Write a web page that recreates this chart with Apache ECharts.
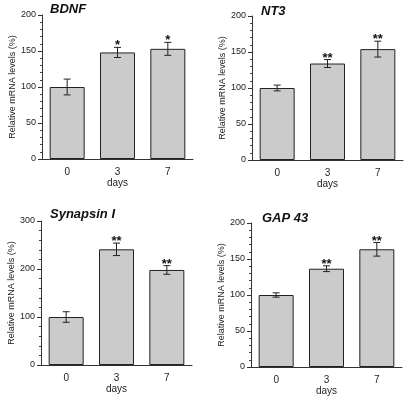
<!DOCTYPE html>
<html>
<head>
<meta charset="utf-8">
<script src="https://cdn.jsdelivr.net/npm/echarts@6/dist/echarts.min.js"></script>
<style>
html,body{margin:0;padding:0;background:#fff;}
#chart{width:405px;height:402px;}
</style>
</head>
<body>
<div id="chart"></div>
<script>
// ---- data ----
const categories = ['0', '3', '7'];
const panelTitles = ['BDNF', 'NT3', 'Synapsin I', 'GAP 43'];

const bdnfValues = [100, 148, 153];
const bdnfErrors = [11, 7, 9];
const bdnfStars = ['', '*', '*'];

const nt3Values = [100, 134, 154];
const nt3Errors = [4, 5.5, 11];
const nt3Stars = ['', '**', '**'];

const synapsinValues = [100, 241, 198];
const synapsinErrors = [11, 13, 9];
const synapsinStars = ['', '**', '**'];

const gap43Values = [100, 136.5, 163.5];
const gap43Errors = [3, 4, 9.5];
const gap43Stars = ['', '**', '**'];

const yMax = [200, 200, 300, 200];
const yInterval = [50, 50, 100, 50];
const yAxisName = 'Relative mRNA levels (%)';
const xAxisName = 'days';

// ---- layout ----
const FONT = '"Liberation Sans", Arial, Helvetica, sans-serif';
const INK = '#222';
const grids = [
  {left: 42, top: 15, width: 151, height: 144},
  {left: 252, top: 16, width: 151, height: 144},
  {left: 41, top: 221, width: 151, height: 144},
  {left: 251, top: 223, width: 151, height: 144}
];
const titlePos = [
  {left: 50, top: 3},
  {left: 261, top: 5},
  {left: 50, top: 208},
  {left: 262, top: 212}
];
const panels = [
  {v: bdnfValues, e: bdnfErrors, s: bdnfStars},
  {v: nt3Values, e: nt3Errors, s: nt3Stars},
  {v: synapsinValues, e: synapsinErrors, s: synapsinStars},
  {v: gap43Values, e: gap43Errors, s: gap43Stars}
];

const xAxes = [], yAxes = [], series = [], titles = [];
panels.forEach((p, i) => {
  titles.push({
    text: panelTitles[i], left: titlePos[i].left, top: titlePos[i].top, padding: 0,
    textStyle: {fontFamily: FONT, fontSize: 13, fontWeight: 'bold', fontStyle: 'italic', color: '#111'}
  });
  xAxes.push({
    type: 'category', gridIndex: i, data: categories, boundaryGap: true,
    name: xAxisName, nameLocation: 'middle', nameGap: 19,
    nameTextStyle: {fontFamily: FONT, fontSize: 10, color: INK},
    axisLine: {lineStyle: {color: '#333', width: 1}},
    axisTick: {alignWithLabel: true, length: 4, lineStyle: {color: '#333'}},
    axisLabel: {fontFamily: FONT, fontSize: 10, color: INK, margin: 8},
    splitLine: {show: false}
  });
  yAxes.push({
    type: 'value', gridIndex: i, min: 0, max: yMax[i], interval: yInterval[i],
    name: yAxisName, nameLocation: 'middle', nameGap: 25, nameRotate: 90,
    nameTextStyle: {fontFamily: FONT, fontSize: 9, color: INK},
    axisLine: {show: true, lineStyle: {color: '#333', width: 1}},
    axisTick: {show: true, length: 4, lineStyle: {color: '#333'}},
    minorTick: {show: true, splitNumber: 5, length: 2, lineStyle: {color: '#444'}},
    axisLabel: {fontFamily: FONT, fontSize: 9, color: INK, margin: 6},
    splitLine: {show: false}
  });
  series.push({
    type: 'bar', xAxisIndex: i, yAxisIndex: i, data: p.v, barWidth: 35,
    itemStyle: {color: '#cbcbcb', borderColor: '#222', borderWidth: 1},
    silent: true, animation: false
  });
  const errData = p.v.map((v, k) => [k, v, p.e[k]]);
  const stars = p.s;
  series.push({
    type: 'custom', xAxisIndex: i, yAxisIndex: i, data: errData, animation: false, silent: true,
    clip: false, z: 5,
    renderItem: function (params, api) {
      const x = api.value(0), v = api.value(1), e = api.value(2);
      const top = api.coord([x, v + e]);
      const bot = api.coord([x, v - e]);
      const hw = 3.5;
      const ls = {stroke: '#222', lineWidth: 1};
      const children = [
        {type: 'line', shape: {x1: top[0], y1: top[1], x2: bot[0], y2: bot[1]}, style: ls},
        {type: 'line', shape: {x1: top[0] - hw, y1: top[1], x2: top[0] + hw, y2: top[1]}, style: ls},
        {type: 'line', shape: {x1: bot[0] - hw, y1: bot[1], x2: bot[0] + hw, y2: bot[1]}, style: ls}
      ];
      const st = stars[params.dataIndex];
      if (st) {
        children.push({
          type: 'text',
          style: {text: st, x: top[0], y: top[1] + 5, textAlign: 'center', textVerticalAlign: 'bottom',
                  fontFamily: FONT, fontSize: 13, fontWeight: 'bold', fill: '#111'}
        });
      }
      return {type: 'group', children: children};
    }
  });
});

const chart = echarts.init(document.getElementById('chart'), null, {renderer: 'canvas'});
chart.setOption({
  backgroundColor: '#fff',
  animation: false,
  title: titles,
  grid: grids,
  xAxis: xAxes,
  yAxis: yAxes,
  series: series
});
</script>
</body>
</html>
